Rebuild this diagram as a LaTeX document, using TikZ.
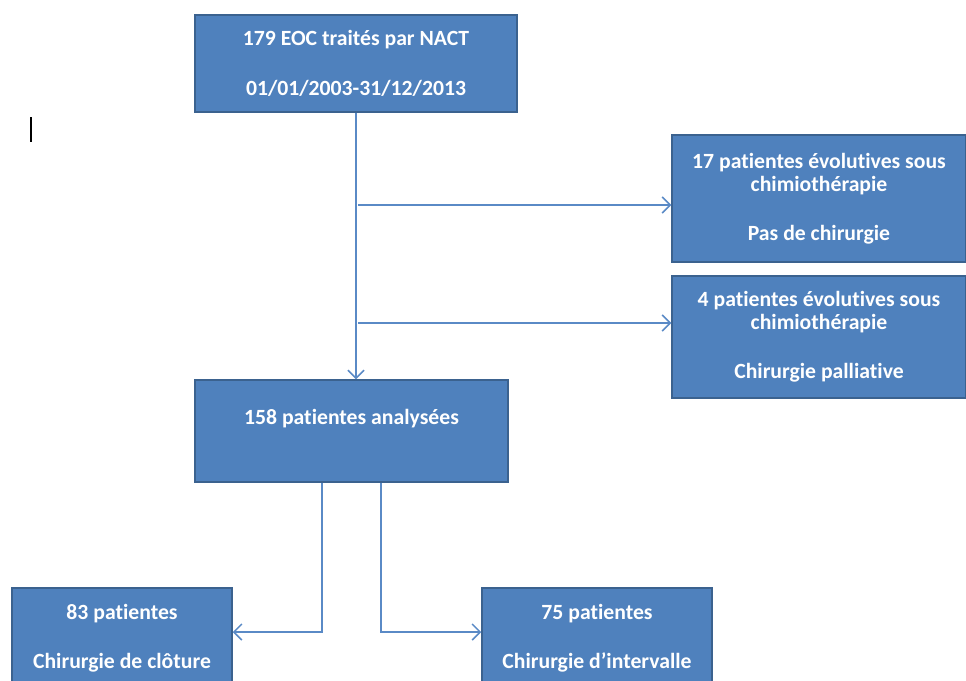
\documentclass[tikz,border=0pt]{standalone}
\usepackage{fontspec}
\setmainfont{Carlito}[Ligatures=NoCommon]
\usetikzlibrary{arrows.meta}
\definecolor{boxblue}{HTML}{4F81BD}
\definecolor{boxedge}{HTML}{3B628F}
\definecolor{linkblue}{HTML}{5A8AC6}
\begin{document}
\begin{tikzpicture}[x=1pt,y=-1pt,
  flowbox/.style={draw=boxedge,line width=1.5pt,fill=boxblue,text=white,
    font=\bfseries\fontsize{21.7}{23}\selectfont,align=center,inner sep=0pt},
  link/.style={draw=linkblue,line width=1.4pt},
  arr/.style={link,-{Straight Barb[length=8pt,width=16pt,line width=1.5pt]}}]
\useasboundingbox (0,0) rectangle (966,680);

\node[flowbox,minimum width=322pt,minimum height=97pt] (eoc) at (356,63.5)
  {179 EOC traités par NACT\\[27pt]01/01/2003-31/12/2013};

\node[flowbox,minimum width=294pt,minimum height=127pt] (prog) at (819,198.5)
  {17 patientes évolutives sous\\chimiothérapie\\[26pt]Pas de chirurgie};
\node[flowbox,minimum width=294pt,minimum height=122pt] (pall) at (819,337)
  {4 patientes évolutives sous\\chimiothérapie\\[26pt]Chirurgie palliative};

\node[flowbox,minimum width=313pt,minimum height=102pt,text depth=28pt] (ana) at (351.5,431)
  {158 patientes analysées};

\node[flowbox,minimum width=220pt,minimum height=100pt] (clot) at (122,638)
  {83 patientes\\[26pt]Chirurgie de clôture};
\node[flowbox,minimum width=230pt,minimum height=100pt] (interv) at (597,638)
  {75 patientes\\[26pt]Chirurgie d’intervalle};

% main stem and side exits
\draw[arr] (eoc.south) -- (eoc.south |- ana.north);
\coordinate (fork1) at (358,205);
\coordinate (fork2) at (358,323);
\draw[arr] (fork1) -- (fork1 -| prog.west);
\draw[arr] (fork2) -- (fork2 -| pall.west);

% split into the two surgery groups
\coordinate (legl) at (322,632);
\coordinate (legr) at (381,632);
\draw[arr] (legl |- ana.south) -- (legl) -- (legl -| clot.east);
\draw[arr] (legr |- ana.south) -- (legr) -- (legr -| interv.west);

\draw[line width=1.5pt] (31,117) -- (31,142);
\end{tikzpicture}
\end{document}
